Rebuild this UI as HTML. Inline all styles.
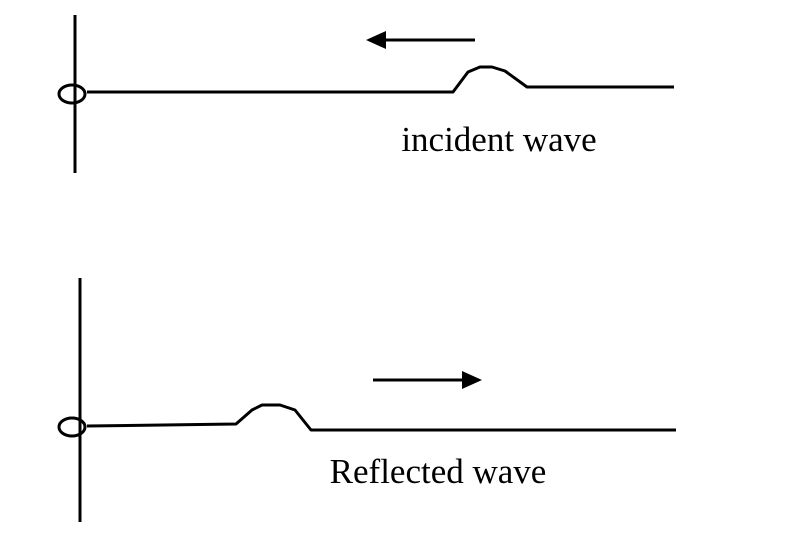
<!DOCTYPE html>
<html><head><style>body{margin:0;background:#fff}</style></head><body>
<svg width="808" height="546" viewBox="0 0 808 546" xmlns="http://www.w3.org/2000/svg">
<g fill="none" stroke="#000" stroke-width="3" stroke-linejoin="round">
<line x1="75" y1="15" x2="75" y2="173"/>
<ellipse cx="72" cy="94" rx="13" ry="9"/>
<polyline points="87,92 453,92 468,72 480,67 492,67 505,71 527,87 674,87"/>
<line x1="475" y1="40" x2="385" y2="40"/>
<line x1="80" y1="278" x2="80" y2="522"/>
<ellipse cx="72" cy="427" rx="13" ry="9"/>
<polyline points="87,426 236,424 252,410 262,405 280,405 295,410 311,430 676,430"/>
<line x1="373" y1="380" x2="463" y2="380"/>
</g>
<polygon points="366,40 386,31 386,49" fill="#000"/>
<polygon points="482,380 462,371 462,389" fill="#000"/>
<g font-family="Liberation Serif, serif" font-size="35" fill="#000" text-anchor="middle">
<text x="499" y="151">incident wave</text>
<text x="438" y="483">Reflected wave</text>
</g>
</svg>
</body></html>
